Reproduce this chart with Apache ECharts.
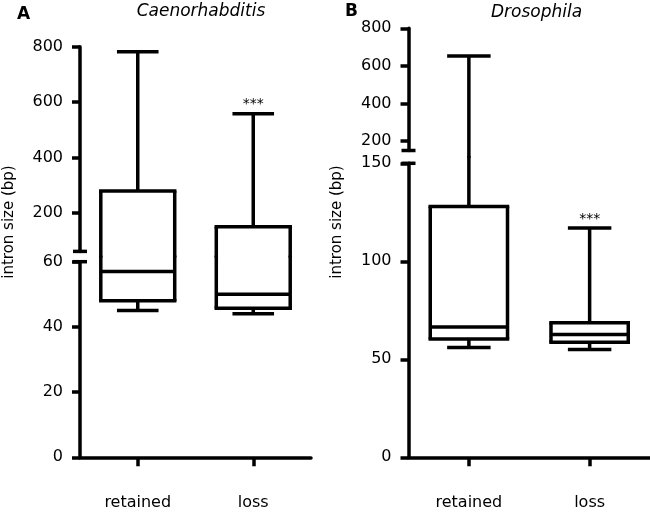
<!DOCTYPE html>
<html><head><meta charset="utf-8">
<script src="https://cdn.jsdelivr.net/npm/echarts@6/dist/echarts.min.js"></script>
<style>html,body{margin:0;padding:0;background:#fff}#c{width:650px;height:513px}</style>
</head><body><div id="c"></div>
<script>
// ---------- data ----------
const categories = ['retained', 'loss'];
// five-number summaries: [lower whisker, Q1, median, Q3, upper whisker]
const caenoRetained = [45, 48, 57, 278, 782];
const caenoLoss = [44, 45.7, 50, 149, 558];
const drosoRetained = [56, 60.4, 66.5, 128, 653];
const drosoLoss = [55, 58.7, 62.6, 68.6, 117];
const significance = ['', '***'];
const caenoTitle = 'Caenorhabditis';
const drosoTitle = 'Drosophila';
const yName = 'intron size (bp)';
// broken y axis: lower / upper segments and their tick labels
const caenoLowerRange = [0, 60];
const caenoUpperRange = [60, 800];
const caenoLowerTicks = [0, 20, 40, 60];
const caenoUpperTicks = [200, 400, 600, 800];
const drosoLowerRange = [0, 150];
const drosoUpperRange = [150, 800];
const drosoLowerTicks = [0, 50, 100, 150];
const drosoUpperTicks = [200, 400, 600, 800];

// ---------- styling / layout ----------
const LW = 3.5;
const FONT = 'DejaVu Sans';
const gapA = 261.7 - 251.4;
const gapB = 163.3 - 150.5;

function rows(a, b) { return [[0].concat(a), [1].concat(b)]; }

function makeRender(range, ext, isUpper) {
  return function (params, api) {
    const cs = params.coordSys;
    const idx = params.dataIndex;
    const cat = api.value(0);
    const v = [api.value(1), api.value(2), api.value(3), api.value(4), api.value(5)];
    const band = api.size([1, 0])[0];
    const cx = api.coord([cat, range[0]])[0];
    const inR = x => (isUpper ? x > range[0] : x >= range[0]) && x <= range[1];
    const yOf = x => x < range[0] ? cs.y + cs.height + ext : (x > range[1] ? cs.y - ext : api.coord([cat, x])[1]);
    const boxHalf = band * 0.32, capHalf = band * 0.18;
    const butt = { stroke: '#000', lineWidth: LW, lineCap: 'butt' };
    const sq = { stroke: '#000', lineWidth: LW, lineCap: 'square' };
    const ch = [];
    const vline = (x, a, b) => {
      const ya = yOf(a), yb = yOf(b);
      if (Math.abs(ya - yb) > 0.5) ch.push({ type: 'line', shape: { x1: x, y1: ya, x2: x, y2: yb }, style: butt });
    };
    const hline = (val, half, st) => {
      if (inR(val)) { const y = yOf(val); ch.push({ type: 'line', shape: { x1: cx - half, y1: y, x2: cx + half, y2: y }, style: st }); }
    };
    // whiskers
    vline(cx, v[3], v[4]);
    vline(cx, v[0], v[1]);
    hline(v[4], capHalf, butt);
    hline(v[0], capHalf, butt);
    // box
    vline(cx - boxHalf, v[1], v[3]);
    vline(cx + boxHalf, v[1], v[3]);
    hline(v[3], boxHalf, sq);
    hline(v[1], boxHalf, sq);
    hline(v[2], boxHalf, butt);
    // significance mark
    const sig = significance[idx];
    if (sig && inR(v[4])) {
      ch.push({ type: 'text', x: cx, y: yOf(v[4]) - 9, style: { text: sig, font: '14px "' + FONT + '"', fill: '#000', align: 'center', verticalAlign: 'middle' } });
    }
    return { type: 'group', children: ch };
  };
}

function xAxisCfg(gridIndex, visible) {
  return {
    type: 'category', gridIndex, data: categories, boundaryGap: true, show: visible,
    axisLine: { show: true, lineStyle: { color: '#000', width: LW } },
    axisTick: { show: true, alignWithLabel: true, length: 9, lineStyle: { color: '#000', width: LW } },
    axisLabel: { margin: 38, color: '#000', fontFamily: FONT, fontSize: 16 },
    splitLine: { show: false }
  };
}
function yAxisCfg(gridIndex, range, ticks, symbol) {
  return {
    type: 'value', gridIndex, min: range[0], max: range[1],
    axisLine: { show: true, symbol: symbol, symbolSize: [14, LW], lineStyle: { color: '#000', width: LW } },
    axisTick: { show: true, inside: false, length: 8, customValues: ticks, lineStyle: { color: '#000', width: LW } },
    axisLabel: { customValues: ticks, margin: 17, color: '#000', fontFamily: FONT, fontSize: 16 },
    splitLine: { show: false }
  };
}
function seriesCfg(gi, range, ext, isUpper, data) {
  return { type: 'custom', xAxisIndex: gi, yAxisIndex: gi, clip: false, silent: true,
    encode: { x: 0, y: [1, 2, 3, 4, 5] }, renderItem: makeRender(range, ext, isUpper), data: data };
}

const chart = echarts.init(document.getElementById('c'), null, { renderer: 'canvas' });
chart.setOption({
  animation: false,
  backgroundColor: '#fff',
  grid: [
    { left: 80, top: 46.7, width: 231, height: 204.7, outerBoundsMode: 'none' },
    { left: 80, top: 261.7, width: 231, height: 195.6, outerBoundsMode: 'none' },
    { left: 408.5, top: 28.3, width: 241.5, height: 122.2, outerBoundsMode: 'none' },
    { left: 408.5, top: 163.3, width: 241.5, height: 294, outerBoundsMode: 'none' }
  ],
  xAxis: [xAxisCfg(0, false), xAxisCfg(1, true), xAxisCfg(2, false), xAxisCfg(3, true)],
  yAxis: [
    yAxisCfg(0, caenoUpperRange, caenoUpperTicks, ['rect', 'none']),
    yAxisCfg(1, caenoLowerRange, caenoLowerTicks, ['none', 'rect']),
    yAxisCfg(2, drosoUpperRange, drosoUpperTicks, ['rect', 'none']),
    yAxisCfg(3, drosoLowerRange, drosoLowerTicks, ['none', 'rect'])
  ],
  series: [
    seriesCfg(0, caenoUpperRange, gapA / 2 + 1, true, rows(caenoRetained, caenoLoss)),
    seriesCfg(1, caenoLowerRange, gapA / 2 + 1, false, rows(caenoRetained, caenoLoss)),
    seriesCfg(2, drosoUpperRange, gapB / 2 + 1, true, rows(drosoRetained, drosoLoss)),
    seriesCfg(3, drosoLowerRange, gapB / 2 + 1, false, rows(drosoRetained, drosoLoss))
  ],
  graphic: [
    { type: 'text', x: 17, y: 14.2, style: { text: 'A', font: 'bold 17px "' + FONT + '"', fill: '#000', align: 'left', verticalAlign: 'middle' } },
    { type: 'text', x: 201, y: 11.7, style: { text: caenoTitle, font: 'italic 17px "' + FONT + '"', fill: '#000', align: 'center', verticalAlign: 'middle' } },
    { type: 'text', x: 345, y: 11.7, style: { text: 'B', font: 'bold 17px "' + FONT + '"', fill: '#000', align: 'left', verticalAlign: 'middle' } },
    { type: 'text', x: 536.5, y: 12.5, style: { text: drosoTitle, font: 'italic 17px "' + FONT + '"', fill: '#000', align: 'center', verticalAlign: 'middle' } },
    { type: 'text', x: 9, y: 222, rotation: Math.PI / 2, style: { text: yName, font: '15px "' + FONT + '"', fill: '#000', align: 'center', verticalAlign: 'middle' } },
    { type: 'text', x: 337, y: 222, rotation: Math.PI / 2, style: { text: yName, font: '15px "' + FONT + '"', fill: '#000', align: 'center', verticalAlign: 'middle' } }
  ]
});
</script></body></html>
